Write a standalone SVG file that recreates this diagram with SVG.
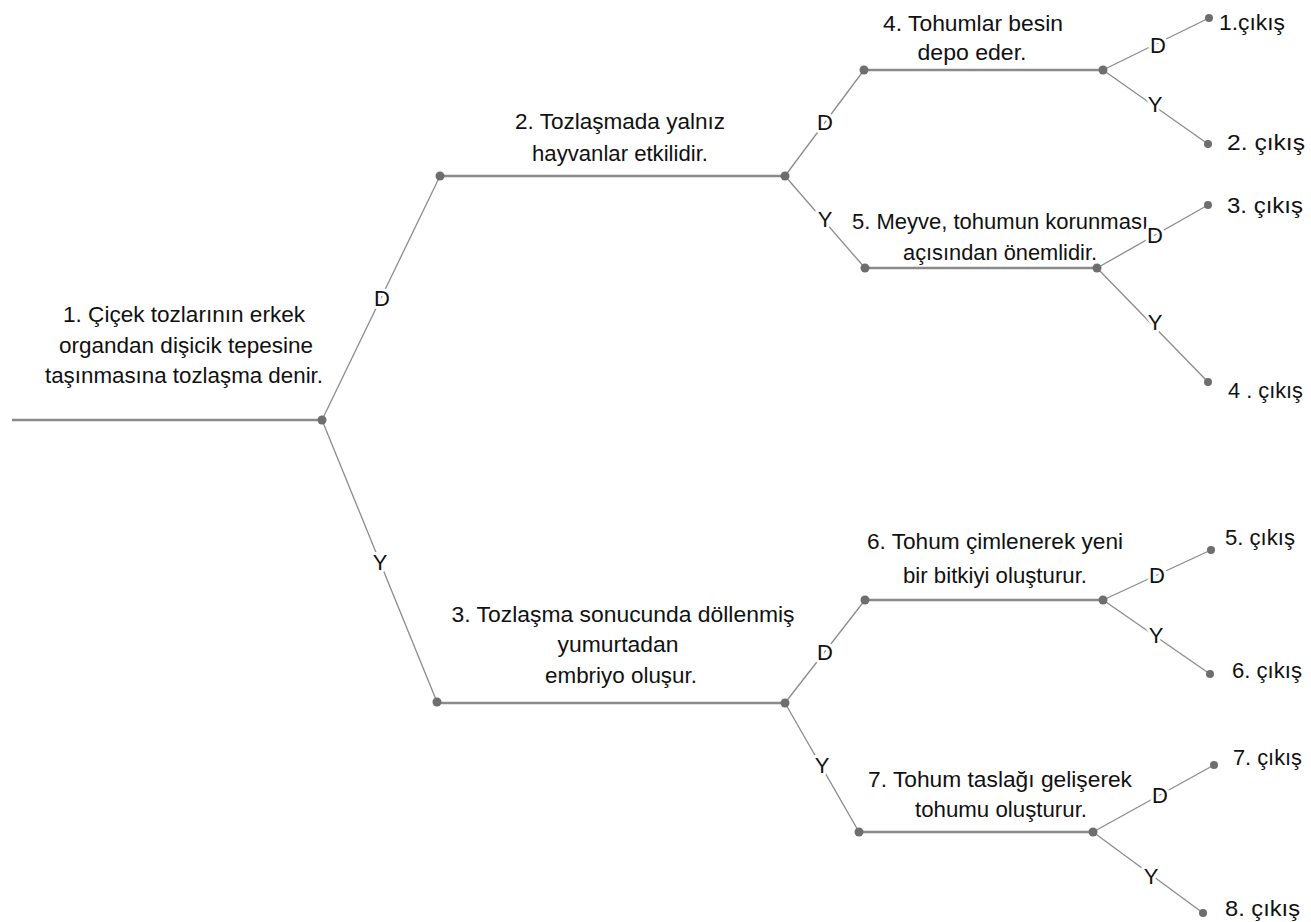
<svg xmlns="http://www.w3.org/2000/svg" width="1311" height="922" viewBox="0 0 1311 922">
<style>
.h{stroke:#8a8a8a;stroke-width:2.4;fill:none}
.d{stroke:#8c8c8c;stroke-width:1.3;fill:none}
.dot{fill:#6e6e6e}
.t{font-family:"Liberation Sans",Arial,sans-serif;font-size:22px;fill:#111;text-anchor:middle}
.o{font-family:"Liberation Sans",Arial,sans-serif;font-size:22px;fill:#111}
.l{font-family:"Liberation Sans",Arial,sans-serif;font-size:22px;fill:#111;text-anchor:middle;stroke:#fff;stroke-width:6;paint-order:stroke;stroke-linejoin:round}
</style>
<rect width="1311" height="922" fill="#fff"/>
<g id="connectors">
<line class="h" x1="12" y1="420" x2="322" y2="420"/>
<line class="d" x1="322" y1="420" x2="440" y2="176"/>
<line class="d" x1="322" y1="420" x2="437" y2="702"/>
<line class="d" x1="785" y1="176" x2="864" y2="70"/>
<line class="d" x1="785" y1="176" x2="865" y2="268"/>
<line class="d" x1="785" y1="703" x2="865" y2="600"/>
<line class="d" x1="785" y1="703" x2="859" y2="832"/>
<line class="d" x1="1103" y1="70" x2="1209" y2="18"/>
<line class="d" x1="1103" y1="70" x2="1208" y2="144"/>
<line class="d" x1="1097" y1="268" x2="1208" y2="205"/>
<line class="d" x1="1097" y1="268" x2="1208" y2="382"/>
<line class="d" x1="1103" y1="600" x2="1211" y2="550"/>
<line class="d" x1="1103" y1="600" x2="1210" y2="674"/>
<line class="d" x1="1093" y1="832" x2="1214" y2="765"/>
<line class="d" x1="1093" y1="832" x2="1203" y2="913"/>
<text class="l" x="382" y="306">D</text>
<text class="l" x="380" y="570">Y</text>
<text class="l" x="825" y="130">D</text>
<text class="l" x="825" y="227">Y</text>
<text class="l" x="825" y="660">D</text>
<text class="l" x="822" y="773">Y</text>
</g>
<g id="n1">
<circle class="dot" cx="322" cy="420" r="4.5"/>
<text class="t" x="184" y="322" textLength="242" lengthAdjust="spacingAndGlyphs">1. Çiçek tozlarının erkek</text>
<text class="t" x="186" y="353" textLength="254" lengthAdjust="spacingAndGlyphs">organdan dişicik tepesine</text>
<text class="t" x="184" y="383" textLength="278" lengthAdjust="spacingAndGlyphs">taşınmasına tozlaşma denir.</text>
</g>
<g id="n2">
<line class="h" x1="440" y1="176" x2="785" y2="176"/>
<circle class="dot" cx="440" cy="176" r="4.5"/>
<circle class="dot" cx="785" cy="176" r="4.5"/>
<text class="t" x="620" y="129" textLength="210" lengthAdjust="spacingAndGlyphs">2. Tozlaşmada yalnız</text>
<text class="t" x="620" y="161" textLength="176" lengthAdjust="spacingAndGlyphs">hayvanlar etkilidir.</text>
</g>
<g id="n3">
<line class="h" x1="437" y1="703" x2="785" y2="703"/>
<circle class="dot" cx="437" cy="702" r="4.5"/>
<circle class="dot" cx="785" cy="703" r="4.5"/>
<text class="t" x="623" y="622" textLength="343" lengthAdjust="spacingAndGlyphs">3. Tozlaşma sonucunda döllenmiş</text>
<text class="t" x="618" y="652" textLength="121" lengthAdjust="spacingAndGlyphs">yumurtadan</text>
<text class="t" x="621" y="683" textLength="152" lengthAdjust="spacingAndGlyphs">embriyo oluşur.</text>
</g>
<g id="n4">
<line class="h" x1="864" y1="70" x2="1103" y2="70"/>
<circle class="dot" cx="864" cy="70" r="4.5"/>
<circle class="dot" cx="1103" cy="70" r="4.5"/>
<text class="t" x="973" y="31" textLength="180" lengthAdjust="spacingAndGlyphs">4. Tohumlar besin</text>
<text class="t" x="972" y="60" textLength="109" lengthAdjust="spacingAndGlyphs">depo eder.</text>
</g>
<g id="n5">
<line class="h" x1="865" y1="268" x2="1097" y2="268"/>
<circle class="dot" cx="865" cy="268" r="4.5"/>
<circle class="dot" cx="1097" cy="268" r="4.5"/>
<text class="t" x="1000" y="229" textLength="296" lengthAdjust="spacingAndGlyphs">5. Meyve, tohumun korunması</text>
<text class="t" x="1000" y="260" textLength="194" lengthAdjust="spacingAndGlyphs">açısından önemlidir.</text>
</g>
<g id="n6">
<line class="h" x1="865" y1="600" x2="1103" y2="600"/>
<circle class="dot" cx="865" cy="600" r="4.5"/>
<circle class="dot" cx="1103" cy="600" r="4.5"/>
<text class="t" x="995" y="549" textLength="256" lengthAdjust="spacingAndGlyphs">6. Tohum çimlenerek yeni</text>
<text class="t" x="995" y="583" textLength="184" lengthAdjust="spacingAndGlyphs">bir bitkiyi oluşturur.</text>
</g>
<g id="n7">
<line class="h" x1="859" y1="832" x2="1093" y2="832"/>
<circle class="dot" cx="859" cy="832" r="4.5"/>
<circle class="dot" cx="1093" cy="832" r="4.5"/>
<text class="t" x="1000" y="787" textLength="264" lengthAdjust="spacingAndGlyphs">7. Tohum taslağı gelişerek</text>
<text class="t" x="1001" y="817" textLength="172" lengthAdjust="spacingAndGlyphs">tohumu oluşturur.</text>
</g>
<g id="branch-labels">
<text class="l" x="1158" y="53">D</text>
<text class="l" x="1155" y="112">Y</text>
<text class="l" x="1155" y="243">D</text>
<text class="l" x="1155" y="330">Y</text>
<text class="l" x="1157" y="583">D</text>
<text class="l" x="1156" y="643">Y</text>
<text class="l" x="1160" y="803">D</text>
<text class="l" x="1151" y="884">Y</text>
</g>
<g id="out1"><circle class="dot" cx="1209" cy="18" r="4"/><text class="o" x="1219" y="30" textLength="66" lengthAdjust="spacingAndGlyphs">1.çıkış</text></g>
<g id="out2"><circle class="dot" cx="1208" cy="144" r="4"/><text class="o" x="1227" y="150" textLength="78" lengthAdjust="spacingAndGlyphs">2. çıkış</text></g>
<g id="out3"><circle class="dot" cx="1208" cy="205" r="4"/><text class="o" x="1227" y="213" textLength="76" lengthAdjust="spacingAndGlyphs">3. çıkış</text></g>
<g id="out4"><circle class="dot" cx="1208" cy="382" r="4"/><text class="o" x="1228" y="398" textLength="75" lengthAdjust="spacingAndGlyphs">4 . çıkış</text></g>
<g id="out5"><circle class="dot" cx="1211" cy="550" r="4"/><text class="o" x="1225" y="545" textLength="70" lengthAdjust="spacingAndGlyphs">5. çıkış</text></g>
<g id="out6"><circle class="dot" cx="1210" cy="674" r="4"/><text class="o" x="1232" y="678" textLength="70" lengthAdjust="spacingAndGlyphs">6. çıkış</text></g>
<g id="out7"><circle class="dot" cx="1214" cy="765" r="4"/><text class="o" x="1233" y="765" textLength="69" lengthAdjust="spacingAndGlyphs">7. çıkış</text></g>
<g id="out8"><circle class="dot" cx="1203" cy="913" r="4"/><text class="o" x="1225" y="916" textLength="75" lengthAdjust="spacingAndGlyphs">8. çıkış</text></g>
</svg>
